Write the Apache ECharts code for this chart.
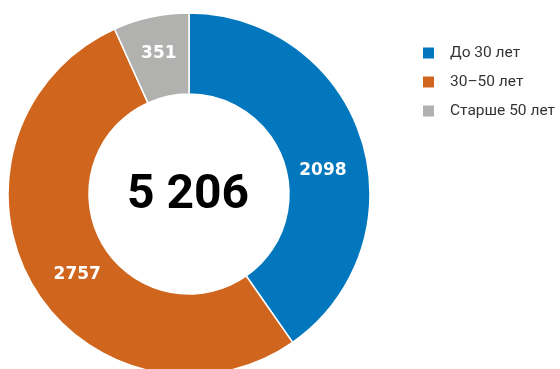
<!DOCTYPE html>
<html>
<head>
<meta charset="utf-8">
<script src="https://cdn.jsdelivr.net/npm/echarts@6/dist/echarts.min.js"></script>
<style>
  html, body {margin: 0; padding: 0; background: #fff;}
  #chart {width: 560px; height: 369px;}
</style>
</head>
<body>
<div id="chart"></div>
<script>
const categories = ['До 30 лет', '30–50 лет', 'Старше 50 лет'];
const values = [2098, 2757, 351];
const colors = ['#0277bd', '#d0661e', '#b1b1b0'];

const total = values.reduce((a, b) => a + b, 0);
const totalText = String(total).replace(/\B(?=(\d{3})+(?!\d))/g, ' ');

// сдвиг подписей внутри кольца
const labelOffsets = [[-3, 20], [13, 10], [0, 0]];

const chart = echarts.init(document.getElementById('chart'));
chart.setOption({
    animation: false,
    legend: {
        orient: 'vertical',
        left: 416,
        top: 40,
        icon: 'rect',
        itemWidth: 13,
        itemHeight: 13,
        itemGap: 13,
        textStyle: {color: '#333', fontSize: 15.5, fontFamily: 'Roboto', padding: [0, 0, 0, 10]},
        data: categories,
    },
    graphic: [{
        type: 'text',
        x: 188,
        y: 196,
        style: {
            text: totalText,
            fill: '#000',
            font: 'bold 48px Roboto',
            textAlign: 'center',
            textVerticalAlign: 'middle',
        },
    }],
    series: [{
        type: 'pie',
        center: [189, 194],
        radius: [100, 181],
        startAngle: 90,
        clockwise: true,
        itemStyle: {borderColor: '#fff', borderWidth: 1.5},
        label: {
            position: 'inside',
            color: '#fff',
            fontSize: 17,
            fontWeight: 'bold',
            fontFamily: 'DejaVu Sans',
            formatter: '{c}',
        },
        emphasis: {disabled: true},
        data: categories.map((name, i) => ({
            name,
            value: values[i],
            itemStyle: {color: colors[i]},
            label: {offset: labelOffsets[i]},
        })),
    }],
});
</script>
</body>
</html>
